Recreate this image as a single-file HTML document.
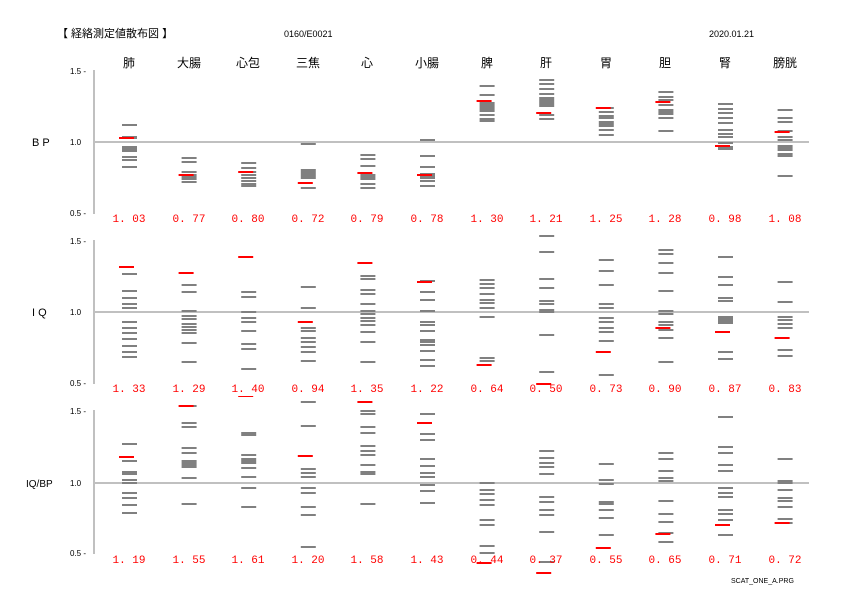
<!DOCTYPE html>
<html><head><meta charset="utf-8"><style>
body{margin:0;background:#fff;}
svg{display:block;font-family:"Liberation Sans","Noto Sans CJK JP",sans-serif;}
.h{font-size:12px;fill:#000;text-anchor:middle;}
.v{font-family:"Liberation Mono","Noto Sans CJK JP",monospace;font-size:11px;fill:#f00;text-anchor:middle;}
.t{font-size:8px;fill:#000;}
</style></head><body>
<svg id="s" width="842" height="596" viewBox="0 0 842 596">
<rect width="842" height="596" fill="#fff"/>
<text x="57" y="37" font-size="11" fill="#000">【 経絡測定値散布図 】</text>
<text x="284" y="37" font-size="9" fill="#000">0160/E0021</text>
<text x="709" y="37" font-size="9" fill="#000">2020.01.21</text>
<g class="h">
<text x="129" y="67">肺</text><text x="189" y="67">大腸</text><text x="248" y="67">心包</text><text x="308" y="67">三焦</text><text x="367" y="67">心</text><text x="427" y="67">小腸</text><text x="487" y="67">脾</text><text x="546" y="67">肝</text><text x="606" y="67">胃</text><text x="665" y="67">胆</text><text x="725" y="67">腎</text><text x="785" y="67">膀胱</text>
</g>
<text x="32" y="146" font-size="11" fill="#000">B P</text>
<text x="32" y="316" font-size="11" fill="#000">I Q</text>
<text x="26" y="487" font-size="10" fill="#000">IQ/BP</text>
<g class="t">
<text x="70" y="74">1.5 -</text><text x="70" y="145">1.0</text><text x="70" y="216">0.5 -</text>
<text x="70" y="244">1.5 -</text><text x="70" y="315">1.0</text><text x="70" y="386">0.5 -</text>
<text x="70" y="414">1.5 -</text><text x="70" y="486">1.0</text><text x="70" y="556">0.5 -</text>
</g>
<g fill="#c0c0c0">
<rect x="93" y="70" width="2" height="144"/><rect x="93" y="141" width="716" height="2"/>
<rect x="93" y="240" width="2" height="144"/><rect x="93" y="311" width="716" height="2"/>
<rect x="93" y="410" width="2" height="144"/><rect x="93" y="482" width="716" height="2"/>
</g>
<g id="bars"></g>
<g class="v">
<text x="129" y="222">1. 03</text><text x="189" y="222">0. 77</text><text x="248" y="222">0. 80</text><text x="308" y="222">0. 72</text><text x="367" y="222">0. 79</text><text x="427" y="222">0. 78</text><text x="487" y="222">1. 30</text><text x="546" y="222">1. 21</text><text x="606" y="222">1. 25</text><text x="665" y="222">1. 28</text><text x="725" y="222">0. 98</text><text x="785" y="222">1. 08</text>
<text x="129" y="392">1. 33</text><text x="189" y="392">1. 29</text><text x="248" y="392">1. 40</text><text x="308" y="392">0. 94</text><text x="367" y="392">1. 35</text><text x="427" y="392">1. 22</text><text x="487" y="392">0. 64</text><text x="546" y="392">0. 50</text><text x="606" y="392">0. 73</text><text x="665" y="392">0. 90</text><text x="725" y="392">0. 87</text><text x="785" y="392">0. 83</text>
<text x="129" y="563">1. 19</text><text x="189" y="563">1. 55</text><text x="248" y="563">1. 61</text><text x="308" y="563">1. 20</text><text x="367" y="563">1. 58</text><text x="427" y="563">1. 43</text><text x="487" y="563">0. 44</text><text x="546" y="563">0. 37</text><text x="606" y="563">0. 55</text><text x="665" y="563">0. 65</text><text x="725" y="563">0. 71</text><text x="785" y="563">0. 72</text>
</g>
<text x="731" y="583" font-size="7" fill="#000">SCAT_ONE_A.PRG</text>
</svg>
<script>
var G=[
[[124,136,137,146,148,150,156,159,166],137],
[[157,161,171,174,176,178,181],174],
[[162,167,171,174,177,180,183,185],171],
[[143,169,171,173,175,177,187],182],
[[154,158,165,174,176,178,183,187],172],
[[139,155,166,173,175,177,180,185],174],
[[85,94,102,104,106,108,110,114,118,120],100],
[[79,83,88,93,97,99,101,103,105,114,118],112],
[[107,111,115,117,121,123,125,129,134],107],
[[91,96,99,104,109,111,113,117,130],101],
[[103,108,112,117,122,129,133,136,142,146,148],145],
[[109,117,121,130,136,139,145,147,149,153,155,175],131],
[[273,290,297,303,307,321,327,332,338,345,351,356],266],
[[284,291,310,315,318,323,326,329,332,342,361],272],
[[291,296,311,317,321,330,343,348,368],256,396],
[[286,307,327,330,337,341,346,351,360],321],
[[275,278,289,293,303,310,313,317,320,324,331,341,361],262],
[[280,291,299,310,321,324,330,339,341,344,350,359,365],281],
[[279,283,287,293,299,302,307,316,357,360],364],
[[235,251,278,287,300,303,309,311,334,371],383],
[[259,270,284,303,307,317,321,327,331,340,374],351],
[[249,253,262,272,290,310,313,321,324,329,337,361],327],
[[256,276,284,297,300,316,318,320,322,351,358],331],
[[281,301,316,319,323,327,349,355],337],
[[443,460,471,473,479,482,492,497,504,512],456],
[[405,422,426,447,452,460,462,464,466,477,503],405],
[[432,434,454,458,460,462,467,476,487,506],null],
[[401,425,468,472,476,487,492,506,514,546],455],
[[410,413,426,432,445,450,454,464,471,473,503],401],
[[413,433,439,458,465,472,476,484,490,502],422],
[[482,489,493,499,504,519,524,545,552],562],
[[450,457,462,466,473,496,501,509,514,531,561],572],
[[463,479,483,501,503,509,517,534],547],
[[452,458,470,477,480,500,513,521,532,541],533],
[[416,446,452,464,470,487,492,496,509,513,519,534],524],
[[458,480,482,489,497,500,506,518,522],522]
];
var s="",ns="http://www.w3.org/2000/svg";
G.forEach(function(c,k){var i=k%12,x=122+59.6*i;
c[0].forEach(function(y){s+='<rect x="'+x.toFixed(1)+'" y="'+y+'" width="15" height="2" fill="#808080"/>';});
if(c[1]!=null)s+='<rect x="'+(x-3).toFixed(1)+'" y="'+c[1]+'" width="15" height="2" fill="#f00"/>';
if(c[2])s+='<rect x="'+(x-3).toFixed(1)+'" y="'+c[2]+'" width="15" height="1" fill="#f00"/>';});
document.getElementById("bars").innerHTML=s;
</script>
</body></html>
